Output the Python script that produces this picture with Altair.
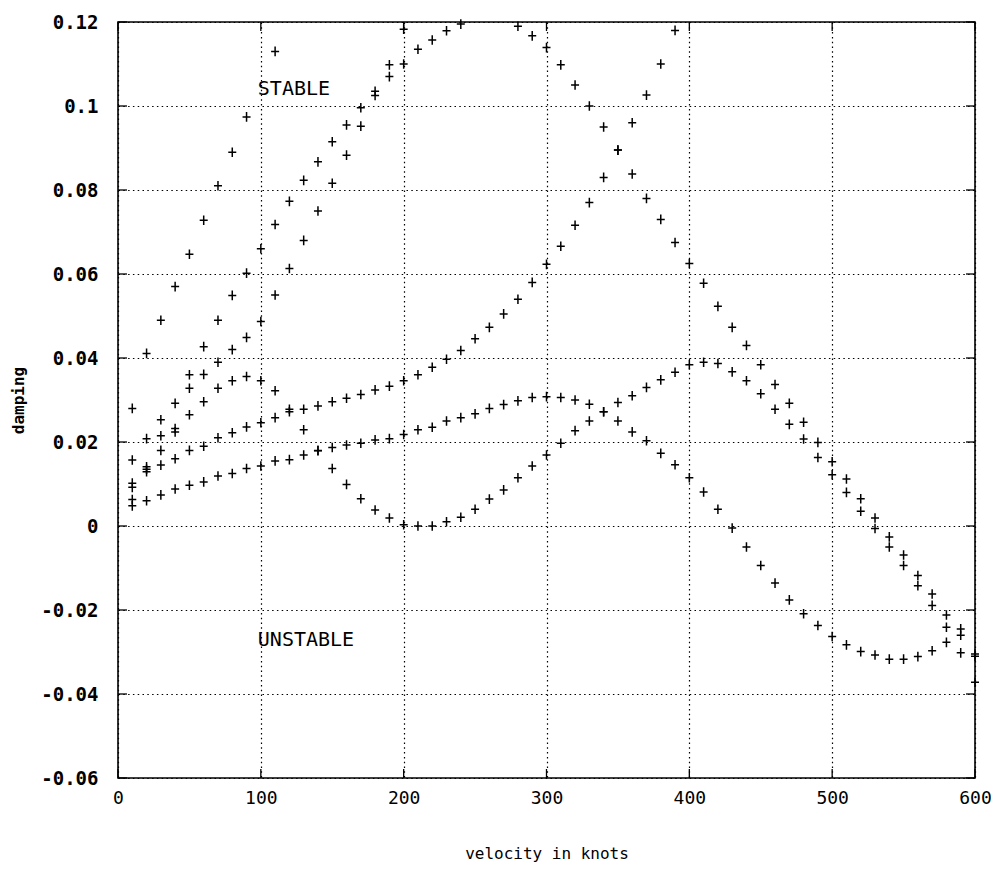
import altair as alt
import pandas as pd

# velocities (knots) at which damping was computed
VEL = [10, 20, 30, 40, 50, 60, 70, 80, 90, 100,
       110, 120, 130, 140, 150, 160, 170, 180, 190, 200,
       210, 220, 230, 240, 250, 260, 270, 280, 290, 300,
       310, 320, 330, 340, 350, 360, 370, 380, 390, 400,
       410, 420, 430, 440, 450, 460, 470, 480, 490, 500,
       510, 520, 530, 540, 550, 560, 570, 580, 590, 600]

# mode A (steep rise, leaves the plot near 120 kt)
A_x = [10, 20, 30, 40, 50, 60, 70, 80, 90, 110]
A_y = [0.0280, 0.0411, 0.0490, 0.0570, 0.0647, 0.0728, 0.0810, 0.0890, 0.0974, 0.1130]

# mode B (hump reaching the top, then long descent)
B_x = VEL[:24] + VEL[27:]
B_y = [0.0157, 0.0208, 0.0253, 0.0292, 0.0360, 0.0427, 0.0490, 0.0549, 0.0602, 0.0660,
       0.0718, 0.0773, 0.0823, 0.0867, 0.0915, 0.0955, 0.0996, 0.1035, 0.1070, 0.1100,
       0.1135, 0.1157, 0.1179, 0.1195,
       0.1190, 0.1167, 0.1139, 0.1098, 0.1050, 0.1000, 0.0950, 0.0895, 0.0838, 0.0780,
       0.0730, 0.0675, 0.0625, 0.0578, 0.0523, 0.0473, 0.0430, 0.0384, 0.0337, 0.0292,
       0.0247, 0.0199, 0.0153, 0.0112, 0.0065, 0.0019, -0.0026, -0.0069, -0.0118, -0.0162,
       -0.0212, -0.0245, -0.0305]

# mode C (rises, leaves the plot near 200 kt)
C_x = VEL[:20]
C_y = [0.0102, 0.0141, 0.0215, 0.0224, 0.0328, 0.0361, 0.0390, 0.0420, 0.0449, 0.0487,
       0.0550, 0.0613, 0.0680, 0.0750, 0.0816, 0.0883, 0.0952, 0.1025, 0.1098, 0.1183]

# mode D (dips to zero near 210 kt, hump near 410 kt)
D_x = VEL
D_y = [0.0092, 0.0135, 0.0180, 0.0232, 0.0265, 0.0296, 0.0328, 0.0346, 0.0356, 0.0346,
       0.0322, 0.0278, 0.0229, 0.0180, 0.0137, 0.0099, 0.0065, 0.0038, 0.0019, 0.0003,
       0.0000, 0.0000, 0.0010, 0.0021, 0.0040, 0.0064, 0.0086, 0.0115, 0.0143, 0.0169,
       0.0197, 0.0227, 0.0250, 0.0272, 0.0294, 0.0310, 0.0330, 0.0348, 0.0366, 0.0384,
       0.0390, 0.0387, 0.0367, 0.0346, 0.0315, 0.0278, 0.0242, 0.0207, 0.0163, 0.0122,
       0.0080, 0.0035, -0.0006, -0.0050, -0.0094, -0.0142, -0.0189, -0.0241, -0.0260, -0.0310]

# mode E (slow rise, then steep rise after 250 kt)
E_x = VEL[:39]
E_y = [0.0063, 0.0129, 0.0145, 0.0160, 0.0180, 0.0190, 0.0210, 0.0222, 0.0236, 0.0246,
       0.0258, 0.0272, 0.0278, 0.0286, 0.0296, 0.0304, 0.0313, 0.0324, 0.0333, 0.0346,
       0.0360, 0.0378, 0.0397, 0.0418, 0.0446, 0.0473, 0.0505, 0.0540, 0.0580, 0.0623,
       0.0666, 0.0716, 0.0770, 0.0830, 0.0895, 0.0960, 0.1026, 0.1100, 0.1180]

# mode F (peak near 300 kt, goes unstable after 430 kt)
F_x = VEL
F_y = [0.0048, 0.0060, 0.0074, 0.0088, 0.0097, 0.0105, 0.0119, 0.0125, 0.0137, 0.0143,
       0.0155, 0.0158, 0.0169, 0.0179, 0.0187, 0.0193, 0.0197, 0.0205, 0.0208, 0.0218,
       0.0229, 0.0235, 0.0250, 0.0258, 0.0267, 0.0280, 0.0289, 0.0298, 0.0306, 0.0308,
       0.0306, 0.0300, 0.0290, 0.0272, 0.0250, 0.0224, 0.0203, 0.0173, 0.0146, 0.0115,
       0.0081, 0.0040, -0.0005, -0.0050, -0.0094, -0.0136, -0.0176, -0.0209, -0.0237, -0.0263,
       -0.0283, -0.0299, -0.0307, -0.0317, -0.0317, -0.0311, -0.0297, -0.0277, -0.0302, -0.0372]

X_TICKS = [0, 100, 200, 300, 400, 500, 600]
Y_TICKS = [-0.06, -0.04, -0.02, 0, 0.02, 0.04, 0.06, 0.08, 0.1, 0.12]

LABEL_TEXT = ["STABLE", "UNSTABLE"]
LABEL_X = [100, 100]
LABEL_Y = [0.104, -0.0272]

modes = {"A": (A_x, A_y), "B": (B_x, B_y), "C": (C_x, C_y),
         "D": (D_x, D_y), "E": (E_x, E_y), "F": (F_x, F_y)}
rows = []
for name, (xs_, ys_) in modes.items():
    for xv, yv in zip(xs_, ys_):
        rows.append({"mode": name, "v": xv, "d": yv})
df = pd.DataFrame(rows)

W, H = 857, 756
FONT = "DejaVu Sans Mono"
TICK = 9

xsc = alt.Scale(domain=[0, 600], nice=False, zero=False)
ysc = alt.Scale(domain=[-0.06, 0.12], nice=False, zero=False)

xaxis = alt.Axis(values=X_TICKS, grid=True, gridDash=[1.5, 3.3], gridColor="black",
                 gridWidth=1.2, gridOpacity=1, ticks=False, domain=False,
                 labelFont=FONT, labelFontSize=18, labelColor="black", labelPadding=11,
                 labelFlush=False, labelOverlap=False,
                 title="velocity in knots", titleFont=FONT, titleFontSize=16,
                 titleFontWeight="normal", titleColor="black",
                 titleY=75, titleBaseline="middle")
yaxis = alt.Axis(values=Y_TICKS, grid=True, gridDash=[1.5, 3.3], gridColor="black",
                 gridWidth=1.2, gridOpacity=1, ticks=False, domain=False,
                 labelFont=FONT, labelFontSize=19, labelFontWeight="bold",
                 labelColor="black", labelPadding=20, labelOverlap=False, labelFlush=False,
                 labelExpr="'' + round(datum.value*100)/100",
                 title="damping", titleFont=FONT, titleFontSize=16, titleFontWeight="bold",
                 titleColor="black", titleX=-100, titleY=H / 2, titleAngle=270,
                 titleAlign="center", titleBaseline="middle")

X_ENC = alt.X("v:Q", scale=xsc, axis=xaxis)
Y_ENC = alt.Y("d:Q", scale=ysc, axis=yaxis)

pts = alt.Chart(df).mark_point(
    shape="M-1,0L1,0M0,-1.2L0,1.2", size=64, filled=False, color="black",
    strokeWidth=1.5, opacity=1
).encode(x=X_ENC, y=Y_ENC)

xt = pd.DataFrame({"v": X_TICKS})
yt = pd.DataFrame({"d": Y_TICKS})
bottom_ticks = alt.Chart(xt).mark_rule(color="black", strokeWidth=1.3).encode(
    x=X_ENC, y=alt.value(H), y2=alt.value(H - TICK))
top_ticks = alt.Chart(xt).mark_rule(color="black", strokeWidth=1.3).encode(
    x=X_ENC, y=alt.value(0), y2=alt.value(TICK))
left_ticks = alt.Chart(yt).mark_rule(color="black", strokeWidth=1.3).encode(
    y=Y_ENC, x=alt.value(0), x2=alt.value(TICK))
right_ticks = alt.Chart(yt).mark_rule(color="black", strokeWidth=1.3).encode(
    y=Y_ENC, x=alt.value(W), x2=alt.value(W - TICK))

lab = pd.DataFrame({"v": LABEL_X, "d": LABEL_Y, "txt": LABEL_TEXT})
texts = alt.Chart(lab).mark_text(
    align="left", baseline="middle", font=FONT, fontSize=20, color="black", dx=-3
).encode(x=X_ENC, y=Y_ENC, text="txt:N")

chart = alt.layer(pts, bottom_ticks, top_ticks, left_ticks, right_ticks, texts).properties(
    width=W, height=H,
    autosize=alt.AutoSizeParams(type="none"),
    padding={"left": 110, "top": 14, "right": 17, "bottom": 92},
    background="white",
).configure_view(stroke="black", strokeWidth=1.6)

chart.save("out.html", embed_options={"renderer": "svg", "actions": False})
